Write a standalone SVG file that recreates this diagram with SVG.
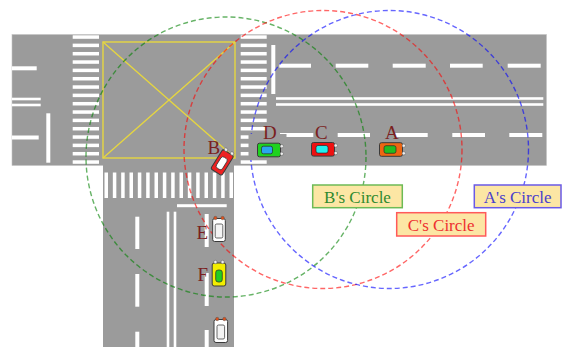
<svg xmlns="http://www.w3.org/2000/svg" width="565" height="347" viewBox="0 0 565 347">
  <style>
    .road { fill: #9b9b9b; }
    .mark { fill: #ffffff; }
    .zone { fill: none; stroke: #e6d640; stroke-width: 1.4; }
    .range { fill: none; stroke-width: 1.4; stroke-dasharray: 5 3; opacity: 0.6; }
    .body { stroke: #3a3a3a; stroke-width: 1; }
    .win { stroke: #2a2a2a; stroke-width: 0.7; }
    .lamp { stroke: #555; stroke-width: 0.5; }
    .tag { font-family: "Liberation Serif", "Times New Roman", serif; font-size: 19px; fill: #7a1f1f; }
    .lbl rect { fill: #fce6a4; stroke-width: 1.5; }
    .lbl text { font-family: "Liberation Serif", "Times New Roman", serif; font-size: 17px; text-anchor: middle; }
  </style>

  <rect width="565" height="347" fill="#ffffff"/>

  <!-- road surface -->
  <g id="road">
    <rect class="road" x="12" y="34.5" width="534.5" height="131" stroke="#c4c4c4" stroke-width="0.6"/>
    <rect class="road" x="103" y="165" width="131" height="182"/>
  </g>

  <!-- lane markings -->
  <g id="markings">
    <!-- west approach -->
    <rect class="mark" x="12" y="66.3" width="24.7" height="4"/>
    <rect class="mark" x="12" y="97.7" width="28.7" height="2.6"/>
    <rect class="mark" x="12" y="103.7" width="28.7" height="2.6"/>
    <rect class="mark" x="12" y="135.5" width="26.7" height="4"/>
    <rect class="mark" x="46.3" y="113.3" width="4" height="49.4"/>
    <!-- east approach -->
    <rect class="mark" x="271.3" y="45" width="4" height="49"/>
    <rect class="mark" x="279.3" y="63.7" width="31.7" height="4"/>
    <rect class="mark" x="335.7" y="63.7" width="32.6" height="4"/>
    <rect class="mark" x="392.7" y="63.7" width="33" height="4"/>
    <rect class="mark" x="450" y="63.7" width="32.7" height="4"/>
    <rect class="mark" x="507.7" y="63.7" width="33" height="4"/>
    <rect class="mark" x="276" y="97.2" width="267.3" height="2.6"/>
    <rect class="mark" x="276" y="103.2" width="267.3" height="2.6"/>
    <rect class="mark" x="280" y="133" width="33.3" height="4"/>
    <rect class="mark" x="337.7" y="133" width="32.3" height="4"/>
    <rect class="mark" x="395" y="133" width="32.7" height="4"/>
    <rect class="mark" x="452.3" y="133" width="32.7" height="4"/>
    <rect class="mark" x="509.3" y="133" width="33" height="4"/>
    <!-- south approach -->
    <rect class="mark" x="177" y="204.2" width="49.7" height="3"/>
    <rect class="mark" x="135.3" y="216.7" width="4" height="32.3"/>
    <rect class="mark" x="135.3" y="274" width="4" height="32.7"/>
    <rect class="mark" x="135.3" y="331.7" width="4" height="15.3"/>
    <rect class="mark" x="166.7" y="211.7" width="2.6" height="135.3"/>
    <rect class="mark" x="173.7" y="211.7" width="2.6" height="135.3"/>
    <rect class="mark" x="204.7" y="214" width="4" height="33"/>
    <rect class="mark" x="204.7" y="273" width="4" height="33"/>
    <rect class="mark" x="204.7" y="330" width="4" height="17"/>
  </g>

  <!-- pedestrian crossings -->
  <g id="crossings">
    <g id="crossing-west">
      <rect class="mark" x="72.7" y="35.3" width="26.3" height="3.5"/>
      <rect class="mark" x="72.7" y="43.63" width="26.3" height="3.5"/>
      <rect class="mark" x="72.7" y="51.97" width="26.3" height="3.5"/>
      <rect class="mark" x="72.7" y="60.3" width="26.3" height="3.5"/>
      <rect class="mark" x="72.7" y="68.63" width="26.3" height="3.5"/>
      <rect class="mark" x="72.7" y="76.97" width="26.3" height="3.5"/>
      <rect class="mark" x="72.7" y="85.3" width="26.3" height="3.5"/>
      <rect class="mark" x="72.7" y="93.63" width="26.3" height="3.5"/>
      <rect class="mark" x="72.7" y="101.97" width="26.3" height="3.5"/>
      <rect class="mark" x="72.7" y="110.3" width="26.3" height="3.5"/>
      <rect class="mark" x="72.7" y="118.63" width="26.3" height="3.5"/>
      <rect class="mark" x="72.7" y="126.97" width="26.3" height="3.5"/>
      <rect class="mark" x="72.7" y="135.3" width="26.3" height="3.5"/>
      <rect class="mark" x="72.7" y="143.63" width="26.3" height="3.5"/>
      <rect class="mark" x="72.7" y="151.97" width="26.3" height="3.5"/>
      <rect class="mark" x="72.7" y="160.3" width="26.3" height="3.5"/>
    </g>
    <g id="crossing-east">
      <rect class="mark" x="240.7" y="35.3" width="26" height="3.5"/>
      <rect class="mark" x="240.7" y="43.63" width="26" height="3.5"/>
      <rect class="mark" x="240.7" y="51.97" width="26" height="3.5"/>
      <rect class="mark" x="240.7" y="60.3" width="26" height="3.5"/>
      <rect class="mark" x="240.7" y="68.63" width="26" height="3.5"/>
      <rect class="mark" x="240.7" y="76.97" width="26" height="3.5"/>
      <rect class="mark" x="240.7" y="85.3" width="26" height="3.5"/>
      <rect class="mark" x="240.7" y="93.63" width="26" height="3.5"/>
      <rect class="mark" x="240.7" y="101.97" width="26" height="3.5"/>
      <rect class="mark" x="240.7" y="110.3" width="26" height="3.5"/>
      <rect class="mark" x="240.7" y="118.63" width="26" height="3.5"/>
      <rect class="mark" x="240.7" y="126.97" width="26" height="3.5"/>
      <rect class="mark" x="240.7" y="135.3" width="26" height="3.5"/>
      <rect class="mark" x="240.7" y="143.63" width="26" height="3.5"/>
      <rect class="mark" x="240.7" y="151.97" width="26" height="3.5"/>
      <rect class="mark" x="240.7" y="160.3" width="26" height="3.5"/>
    </g>
    <g id="crossing-south">
      <rect class="mark" x="104.5" y="172.5" width="3.5" height="25.5"/>
      <rect class="mark" x="112.83" y="172.5" width="3.5" height="25.5"/>
      <rect class="mark" x="121.17" y="172.5" width="3.5" height="25.5"/>
      <rect class="mark" x="129.5" y="172.5" width="3.5" height="25.5"/>
      <rect class="mark" x="137.83" y="172.5" width="3.5" height="25.5"/>
      <rect class="mark" x="146.17" y="172.5" width="3.5" height="25.5"/>
      <rect class="mark" x="154.5" y="172.5" width="3.5" height="25.5"/>
      <rect class="mark" x="162.83" y="172.5" width="3.5" height="25.5"/>
      <rect class="mark" x="171.17" y="172.5" width="3.5" height="25.5"/>
      <rect class="mark" x="179.5" y="172.5" width="3.5" height="25.5"/>
      <rect class="mark" x="187.83" y="172.5" width="3.5" height="25.5"/>
      <rect class="mark" x="196.17" y="172.5" width="3.5" height="25.5"/>
      <rect class="mark" x="204.5" y="172.5" width="3.5" height="25.5"/>
      <rect class="mark" x="212.83" y="172.5" width="3.5" height="25.5"/>
      <rect class="mark" x="221.17" y="172.5" width="3.5" height="25.5"/>
      <rect class="mark" x="229.5" y="172.5" width="3.5" height="25.5"/>
    </g>
  </g>

  <!-- junction box -->
  <g id="junction-box" class="zone">
    <rect x="103" y="42" width="132" height="116"/>
    <line x1="103" y1="42" x2="235" y2="158"/>
    <line x1="235" y1="42" x2="103" y2="158"/>
  </g>

  <!-- communication ranges -->
  <g id="ranges">
    <circle id="range-b" class="range" cx="226" cy="157" r="140" stroke="#008000"/>
    <circle id="range-c" class="range" cx="323" cy="149.5" r="139" stroke="#ff0000"/>
    <circle id="range-a" class="range" cx="389.5" cy="149.5" r="139" stroke="#0000ff"/>
  </g>

  <!-- vehicles: drawn facing +x around their centre, then rotated -->
  <g id="vehicles">
    <g id="car-d" transform="translate(269.5 150)">
      <rect class="road" x="-21" y="-16" width="38" height="26"/>
      <rect class="body" x="-12" y="-6.8" width="23" height="13.6" rx="2" fill="#1fd21f"/>
      <rect class="win" x="-8" y="-3.8" width="11" height="7.6" rx="2" fill="#2aa6ee"/>
      <circle class="lamp" cx="12.3" cy="-3.8" r="1.7" fill="#eeeeee"/>
      <circle class="lamp" cx="12.3" cy="3.8" r="1.7" fill="#eeeeee"/>
    </g>
    <g id="car-c" transform="translate(323.5 149.3)">
      <rect class="body" x="-12" y="-6.8" width="23" height="13.6" rx="2" fill="#ee1111"/>
      <rect class="win" x="-7.5" y="-3.8" width="12" height="7.6" rx="2" fill="#22eeee"/>
      <circle class="lamp" cx="12.3" cy="-3.8" r="1.7" fill="#eeeeee"/>
      <circle class="lamp" cx="12.3" cy="3.8" r="1.7" fill="#eeeeee"/>
    </g>
    <g id="car-a" transform="translate(391.5 149.5)">
      <rect class="body" x="-12" y="-6.8" width="23" height="13.6" rx="2" fill="#ee6611"/>
      <rect class="win" x="-7.5" y="-3.8" width="12" height="7.6" rx="2" fill="#22bb22"/>
      <circle class="lamp" cx="12.3" cy="-3.8" r="1.7" fill="#eeeeee"/>
      <circle class="lamp" cx="12.3" cy="3.8" r="1.7" fill="#eeeeee"/>
    </g>
    <g id="car-b" transform="translate(222.5 162) rotate(-58)">
      <rect class="body" x="-12" y="-6.5" width="23" height="13" rx="2" fill="#ee2222"/>
      <rect class="win" x="-8" y="-3.5" width="13" height="7" rx="2.5" fill="#ffffff"/>
      <circle class="lamp" cx="12.3" cy="-3.6" r="1.7" fill="#eeeeee"/>
      <circle class="lamp" cx="12.3" cy="3.6" r="1.7" fill="#eeeeee"/>
    </g>
    <g id="car-e" transform="translate(219 229.5) rotate(-90)">
      <rect class="body" x="-12" y="-6.3" width="23" height="12.6" rx="2" fill="#ffffff"/>
      <rect class="win" x="-8.5" y="-3.8" width="14" height="7.6" rx="1.5" fill="#f4f4f4"/>
      <circle class="lamp" cx="11.5" cy="-3.6" r="1.7" fill="#e0501a"/>
      <circle class="lamp" cx="11.5" cy="3.6" r="1.7" fill="#e0501a"/>
    </g>
    <g id="car-f" transform="translate(219 274) rotate(-90)">
      <rect class="body" x="-12" y="-6.8" width="23" height="13.6" rx="2" fill="#f2ee00"/>
      <rect class="win" x="-8" y="-3.3" width="12" height="6.6" rx="2.5" fill="#22cc22"/>
      <circle class="lamp" cx="12" cy="-3.6" r="1.7" fill="#eeeeee"/>
      <circle class="lamp" cx="12" cy="3.6" r="1.7" fill="#eeeeee"/>
    </g>
    <g id="car-g" transform="translate(220.8 330.5) rotate(-90)">
      <rect class="body" x="-12" y="-6.8" width="23" height="13.6" rx="2" fill="#ffffff"/>
      <rect class="win" x="-8.5" y="-3.8" width="14" height="7.6" rx="1.5" fill="#f4f4f4"/>
      <circle class="lamp" cx="11.5" cy="-3.6" r="1.7" fill="#e0501a"/>
      <circle class="lamp" cx="11.5" cy="3.6" r="1.7" fill="#e0501a"/>
    </g>
  </g>

  <!-- vehicle names -->
  <g id="vehicle-tags" class="tag">
    <text x="207.5" y="153.5">B</text>
    <text x="263" y="139">D</text>
    <text x="315" y="139">C</text>
    <text x="385" y="139">A</text>
    <text x="196.5" y="238.5">E</text>
    <text x="197.5" y="281">F</text>
  </g>

  <!-- range captions -->
  <g id="caption-b" class="lbl">
    <rect x="312.7" y="185" width="89.6" height="22.7" stroke="#6dbb55"/>
    <text x="357.5" y="202.8" fill="#2f8a2f">B's Circle</text>
  </g>
  <g id="caption-c" class="lbl">
    <rect x="396.7" y="212.7" width="89" height="23.3" stroke="#ff5a5a"/>
    <text x="441.2" y="230.8" fill="#ee3030">C's Circle</text>
  </g>
  <g id="caption-a" class="lbl">
    <rect x="474.3" y="185" width="86.7" height="22.7" stroke="#6a5ae6"/>
    <text x="517.7" y="202.8" fill="#4a3fcc">A's Circle</text>
  </g>
</svg>
